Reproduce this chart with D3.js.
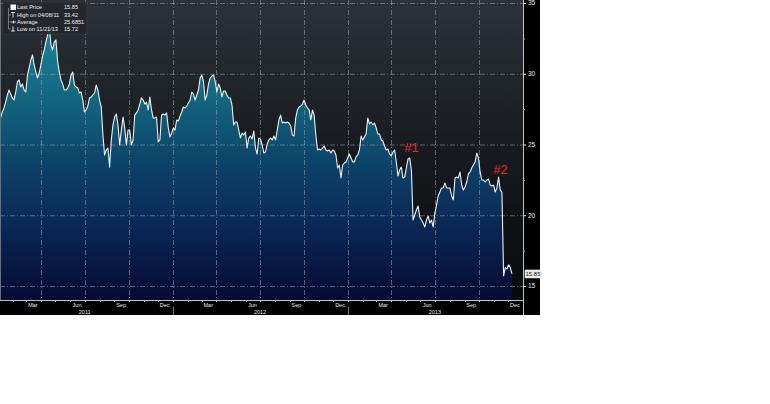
<!DOCTYPE html>
<html>
<head>
<meta charset="utf-8">
<script src="https://cdn.jsdelivr.net/npm/d3@7"></script>
<style>
  html, body { margin: 0; padding: 0; background: #ffffff; }
  svg { display: block; font-family: "Liberation Sans", "DejaVu Sans", Arial, sans-serif; }
</style>
</head>
<body>
<svg id="chart" width="770" height="404"></svg>
<script>
// ---- data (half-weekly closes, every 3.5 days) ----
const seriesStart = "2011-01-03";
const stepHours = 84;
const prices = [
  26.87, 26.90, 27.30, 27.58, 28.00, 28.50, 28.85, 28.57, 28.29, 28.14,
  28.71, 29.42, 29.56, 29.06, 29.28, 28.85, 28.71, 29.91, 30.41, 30.97,
  31.33, 30.62, 30.12, 29.70, 30.05, 30.62, 31.25, 31.68, 32.24, 32.74,
  33.42, 32.03, 31.68, 32.24, 32.39, 30.83, 30.12, 29.56, 29.28, 28.85,
  28.85, 28.99, 29.28, 29.91, 30.12, 29.20, 29.06, 28.99, 28.64, 28.71,
  28.14, 27.30, 27.44, 27.72, 28.29, 28.36, 28.50, 28.64, 29.20, 28.85,
  28.14, 27.65, 25.67, 24.26, 24.61, 24.75, 23.40, 25.32, 26.38, 26.94,
  27.16, 26.38, 24.96, 26.02, 26.94, 26.17, 24.96, 26.02, 26.02, 24.96,
  25.32, 27.08, 27.23, 27.44, 27.86, 28.29, 28.14, 27.86, 28.00, 27.44,
  28.36, 27.44, 26.87, 26.87, 26.94, 25.18, 25.32, 27.08, 27.16, 27.08,
  27.23, 26.17, 25.53, 25.81, 26.17, 26.02, 26.73, 26.66, 27.01, 27.30,
  27.65, 27.58, 27.72, 27.93, 28.14, 28.71, 28.57, 28.14, 28.50, 28.85,
  29.70, 29.91, 29.42, 28.14, 28.50, 29.28, 29.70, 29.84, 29.91, 29.42,
  28.71, 29.28, 28.99, 28.36, 28.78, 28.78, 28.50, 28.29, 28.29, 27.79,
  26.38, 26.59, 26.59, 26.02, 25.46, 25.81, 25.67, 25.88, 24.75, 25.46,
  25.60, 25.39, 25.95, 24.75, 24.33, 25.46, 25.39, 24.96, 24.40, 24.47,
  25.04, 25.32, 25.46, 25.32, 25.60, 25.32, 26.02, 26.73, 27.08, 26.52,
  26.59, 26.52, 26.59, 26.52, 26.31, 25.67, 25.60, 26.87, 27.44, 27.65,
  27.72, 27.86, 28.14, 27.79, 27.58, 27.44, 26.73, 27.44, 27.08, 25.67,
  24.61, 24.68, 24.61, 24.75, 24.89, 24.61, 24.54, 24.61, 24.40, 24.61,
  24.54, 24.26, 23.34, 23.55, 22.63, 23.55, 23.69, 23.76, 24.05, 24.33,
  24.05, 23.76, 23.76, 24.12, 24.26, 24.61, 25.60, 25.32, 25.53, 25.74,
  26.87, 26.45, 26.59, 26.38, 26.52, 26.17, 25.74, 25.74, 25.32, 25.25,
  24.89, 24.61, 24.68, 24.33, 24.19, 24.47, 24.61, 23.76, 22.77, 23.20,
  23.41, 22.63, 22.70, 23.34, 23.98, 24.05, 23.20, 19.66, 20.02, 20.37,
  20.65, 19.88, 19.66, 19.45, 19.17, 19.66, 19.95, 19.45, 19.66, 19.17,
  20.16, 20.72, 21.36, 21.64, 21.93, 21.93, 22.28, 21.93, 21.93, 21.93,
  21.36, 21.08, 22.63, 22.70, 22.63, 23.06, 22.14, 21.78, 22.00, 22.35,
  22.92, 23.06, 23.34, 23.55, 23.76, 24.40, 24.05, 23.06, 22.49, 22.49,
  22.35, 22.49, 22.56, 22.14, 22.07, 22.14, 21.64, 21.93, 22.70, 21.78,
  21.64, 15.72, 16.30, 16.20, 16.50, 16.30, 15.85
];
const yTicks = [15, 20, 25, 30, 35];
const yMinorTicks = [17.5, 22.5, 27.5, 32.5];
const monthLabels = ["Mar", "Jun", "Sep", "Dec"];
const years = [2011, 2012, 2013];
const legendLabels = ["Last Price", "High on 04/08/11", "Average", "Low on 11/21/13"];
const legendValues = ["15.85", "33.42", "25.6851", "15.72"];
const annotations = [{ text: "#1", date: "2013-04-28", value: 24.45 }, { text: "#2", date: "2013-10-31", value: 22.95 }];
const lastPrice = 15.85;

// ---- build ----
const parse = d3.timeParse("%Y-%m-%d");
const start = parse(seriesStart);
const data = prices.map((v, i) => ({ date: d3.timeHour.offset(start, stepHours * i), value: v }));

const svg = d3.select("#chart");
const plotL = 0, plotR = 523, plotT = 0, plotB = 300;

const x = d3.scaleTime()
  .domain([new Date(2011, 0, 1), new Date(2014, 0, 1)])
  .range([-2, plotR]);
const y = d3.scaleLinear().domain([15, 35]).range([286, 3]);

const defs = svg.append("defs");
const bg = defs.append("linearGradient").attr("id", "bg").attr("x1", 0).attr("y1", 0).attr("x2", 0).attr("y2", 1);
bg.append("stop").attr("offset", "0%").attr("stop-color", "#2c3238");
bg.append("stop").attr("offset", "50%").attr("stop-color", "#171b1f");
bg.append("stop").attr("offset", "100%").attr("stop-color", "#08090b");

const fg = defs.append("linearGradient").attr("id", "fill")
  .attr("gradientUnits", "userSpaceOnUse").attr("x1", 0).attr("y1", 0).attr("x2", 0).attr("y2", plotB);
fg.append("stop").attr("offset", "0%").attr("stop-color", "#1e8ea2");
fg.append("stop").attr("offset", "30%").attr("stop-color", "#146a83");
fg.append("stop").attr("offset", "55%").attr("stop-color", "#0c4268");
fg.append("stop").attr("offset", "78%").attr("stop-color", "#0a2452");
fg.append("stop").attr("offset", "100%").attr("stop-color", "#050b32");

defs.append("clipPath").attr("id", "clip").append("rect")
  .attr("x", plotL).attr("y", plotT).attr("width", plotR - plotL).attr("height", plotB - plotT);

// outer black frame for axes
svg.append("rect").attr("x", 0).attr("y", 0).attr("width", 540).attr("height", 315).attr("fill", "#000");
// plot background
svg.append("rect").attr("x", plotL).attr("y", plotT).attr("width", plotR - plotL).attr("height", plotB - plotT)
  .attr("fill", "url(#bg)");

const plot = svg.append("g").attr("clip-path", "url(#clip)");

// area
plot.append("path").datum(data)
  .attr("fill", "url(#fill)")
  .attr("d", d3.area().x(d => x(d.date)).y0(plotB).y1(d => y(d.value)));

// gridlines
const gridColor = "#9aa0a6";
yTicks.forEach(t => {
  plot.append("line").attr("x1", plotL).attr("x2", plotR).attr("y1", y(t) + 0.5).attr("y2", y(t) + 0.5)
    .attr("stroke", gridColor).attr("stroke-opacity", 0.55).attr("stroke-width", 1)
    .attr("stroke-dasharray", "5,2,1,2");
});
const quarterStarts = d3.timeMonth.every(3).range(new Date(2011, 3, 1), new Date(2014, 0, 1));
quarterStarts.forEach(d => {
  plot.append("line").attr("x1", Math.round(x(d)) + 0.5).attr("x2", Math.round(x(d)) + 0.5)
    .attr("y1", plotT).attr("y2", plotB)
    .attr("stroke", gridColor).attr("stroke-opacity", 0.55).attr("stroke-width", 1)
    .attr("stroke-dasharray", "5,2,1,2");
});

// price line
plot.append("path").datum(data)
  .attr("fill", "none").attr("stroke", "#eef2f4").attr("stroke-width", 1.1)
  .attr("stroke-linejoin", "round")
  .attr("d", d3.line().x(d => x(d.date)).y(d => y(d.value)));

// left frame line
svg.append("line").attr("x1", 0.5).attr("x2", 0.5).attr("y1", 0).attr("y2", plotB)
  .attr("stroke", "#6b7075").attr("stroke-width", 1);

// right axis
const ra = svg.append("g");
ra.append("line").attr("x1", plotR + 0.5).attr("x2", plotR + 0.5).attr("y1", 0).attr("y2", 315)
  .attr("stroke", "#bfc3c7").attr("stroke-width", 1);
yTicks.forEach(t => {
  ra.append("line").attr("x1", plotR).attr("x2", plotR + 3).attr("y1", y(t) + 0.5).attr("y2", y(t) + 0.5)
    .attr("stroke", "#e0e0e0");
  ra.append("text").attr("x", plotR + 5).attr("y", y(t)).attr("dy", "0.35em")
    .attr("font-size", 6.5).attr("fill", "#e8e8e8").text(t);
});
yMinorTicks.forEach(t => {
  ra.append("line").attr("x1", plotR).attr("x2", plotR + 2).attr("y1", y(t) + 0.5).attr("y2", y(t) + 0.5)
    .attr("stroke", "#aaa");
});
// last price tag
ra.append("rect").attr("x", plotR + 2).attr("y", y(lastPrice) - 4).attr("width", 16).attr("height", 8)
  .attr("fill", "#e8e8e8").attr("stroke", "#fff").attr("stroke-width", 0.5);
ra.append("text").attr("x", plotR + 10).attr("y", y(lastPrice)).attr("dy", "0.35em")
  .attr("text-anchor", "middle").attr("font-size", 6).attr("fill", "#222").text(lastPrice.toFixed(2));

// bottom axis
const ba = svg.append("g");
ba.append("line").attr("x1", 0).attr("x2", plotR).attr("y1", plotB + 0.5).attr("y2", plotB + 0.5)
  .attr("stroke", "#bfc3c7");
d3.timeMonth.range(new Date(2011, 1, 1), new Date(2014, 0, 1)).forEach(d => {
  ba.append("line").attr("x1", Math.round(x(d)) + 0.5).attr("x2", Math.round(x(d)) + 0.5)
    .attr("y1", plotB).attr("y2", plotB + 2).attr("stroke", "#ccc");
});
years.forEach(yr => {
  monthLabels.forEach((m, i) => {
    const d = new Date(yr, 2 + 3 * i, 15);
    ba.append("text").attr("x", x(d)).attr("y", 306.5).attr("text-anchor", "middle")
      .attr("font-size", 5.5).attr("fill", "#e6e6e6").text(m);
  });
  ba.append("text").attr("x", x(new Date(yr, 6, 1))).attr("y", 314).attr("text-anchor", "middle")
    .attr("font-size", 5.5).attr("fill", "#e6e6e6").text(yr);
  if (yr > 2011) {
    const xs = Math.round(x(new Date(yr, 0, 1))) + 0.5;
    ba.append("line").attr("x1", xs).attr("x2", xs).attr("y1", 307).attr("y2", 315).attr("stroke", "#777");
  }
});

// legend
const lg = svg.append("g");
lg.append("rect").attr("x", 3).attr("y", 2).attr("width", 84).attr("height", 32)
  .attr("fill", "#23272c").attr("fill-opacity", 0.92).attr("stroke", "#3a3f44").attr("stroke-width", 0.6);
const rowY = [7.5, 15, 22, 29];
lg.append("line").attr("x1", 8.5).attr("x2", 8.5).attr("y1", 8).attr("y2", 29).attr("stroke", "#aaa").attr("stroke-width", 0.6);
rowY.forEach((ry, i) => {
  if (i > 0) lg.append("line").attr("x1", 8.5).attr("x2", 11).attr("y1", ry).attr("y2", ry).attr("stroke", "#aaa").attr("stroke-width", 0.6);
  lg.append("text").attr("x", 17).attr("y", ry).attr("dy", "0.35em").attr("font-size", 5.6)
    .attr("fill", "#eee").text(legendLabels[i]);
  lg.append("text").attr("x", 64).attr("y", ry).attr("dy", "0.35em").attr("font-size", 5.6)
    .attr("fill", "#eee").text(legendValues[i]);
});
lg.append("rect").attr("x", 10.5).attr("y", 4.5).attr("width", 5.5).attr("height", 5.5).attr("fill", "#fff");
lg.append("line").attr("x1", 11).attr("x2", 15).attr("y1", 12.5).attr("y2", 12.5).attr("stroke", "#fff").attr("stroke-width", 0.8);
lg.append("line").attr("x1", 13).attr("x2", 13).attr("y1", 12.5).attr("y2", 17.5).attr("stroke", "#fff").attr("stroke-width", 0.8);
lg.append("line").attr("x1", 11).attr("x2", 16).attr("y1", 22).attr("y2", 22).attr("stroke", "#fff").attr("stroke-width", 0.8);
lg.append("line").attr("x1", 13.5).attr("x2", 13.5).attr("y1", 20.5).attr("y2", 23.5).attr("stroke", "#fff").attr("stroke-width", 0.8);
lg.append("line").attr("x1", 13).attr("x2", 13).attr("y1", 26.5).attr("y2", 31).attr("stroke", "#fff").attr("stroke-width", 0.8);
lg.append("line").attr("x1", 11).attr("x2", 15).attr("y1", 31).attr("y2", 31).attr("stroke", "#fff").attr("stroke-width", 0.8);

// annotations
annotations.forEach(a => {
  svg.append("text").attr("x", x(parse(a.date))).attr("y", y(a.value))
    .attr("font-size", 13).attr("fill", "#f0222a").text(a.text);
});
</script>
</body>
</html>
